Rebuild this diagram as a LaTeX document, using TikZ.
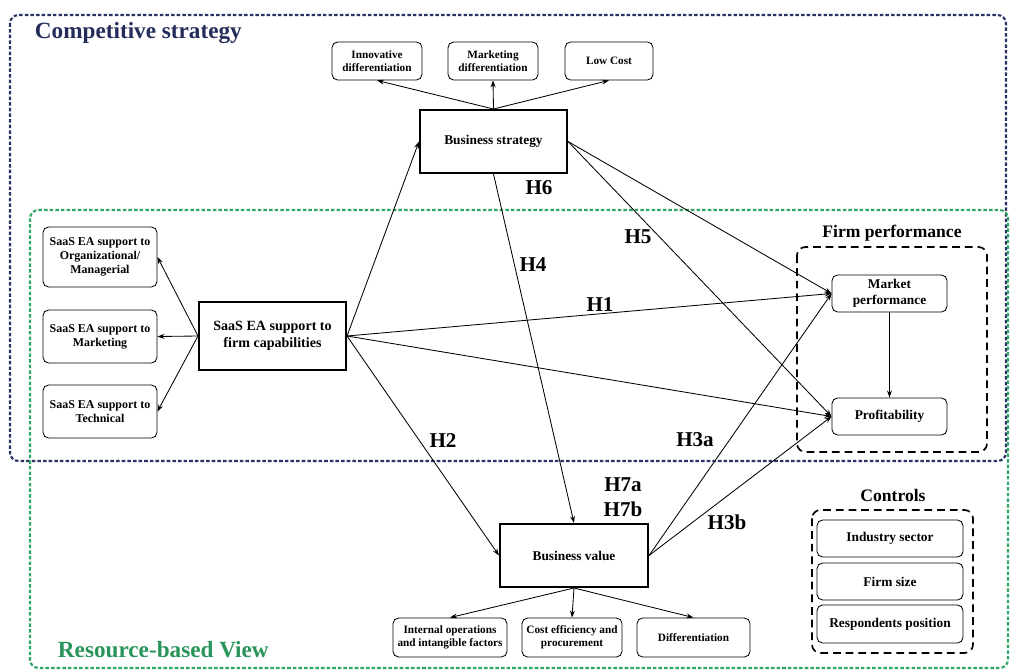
\documentclass[tikz,border=0pt]{standalone}
\usepackage{fontspec}
\setmainfont{Liberation Serif}
\usetikzlibrary{arrows.meta}
\definecolor{navyframe}{RGB}{40,50,100}
\definecolor{rbvgreen}{RGB}{45,165,100}
\begin{document}
\begin{tikzpicture}[x=0.025cm,y=-0.025cm,
  box/.style={draw,rounded corners=4pt,line width=0.6pt,align=center,inner sep=1pt,font=\fontsize{8}{9.5}\selectfont\bfseries},
  midbox/.style={box,font=\fontsize{9.5}{11}\selectfont\bfseries},
  bigbox/.style={draw,line width=1.4pt,align=center,font=\fontsize{9.5}{11.5}\selectfont\bfseries},
  hyp/.style={font=\fontsize{15}{15}\selectfont\bfseries},
  link/.style={-{Stealth[length=5pt,width=3.5pt]},line width=0.6pt},
  grp/.style={dash pattern=on 5.5pt off 3.5pt,line width=1.2pt,rounded corners=6pt}]
\useasboundingbox (0,0) rectangle (1013,671);
\draw[navyframe,line width=1.5pt,dash pattern=on 2.5pt off 1.5pt,rounded corners=6pt] (10,15) rectangle (1006,461);
\draw[rbvgreen,line width=1.5pt,dash pattern=on 2.5pt off 1.5pt,rounded corners=6pt] (30,210) rectangle (1008,668);
\node[anchor=west,text=navyframe!90!black,font=\fontsize{16.5}{18}\selectfont\bfseries] (cs) at (30,33) {Competitive strategy};
\node[anchor=west,text=rbvgreen!90!black,font=\fontsize{16.5}{18}\selectfont\bfseries] (rbv) at (53,650) {Resource-based View};

\node[box,minimum width=2.25cm,minimum height=0.95cm] (inno) at (377,61) {Innovative\\differentiation};
\node[box,minimum width=2.25cm,minimum height=0.95cm] (mktd) at (493,61) {Marketing\\differentiation};
\node[box,minimum width=2.2cm,minimum height=0.95cm] (lowc) at (609,61) {Low Cost};
\node[bigbox,minimum width=3.675cm,minimum height=1.575cm] (bstrat) at (493.5,141.5) {Business strategy};

\node[box,font=\fontsize{8.5}{10}\selectfont\bfseries,minimum width=2.85cm,minimum height=1.5cm] (org) at (100,257) {SaaS EA support to\\Organizational/\\Managerial};
\node[box,font=\fontsize{8.5}{10}\selectfont\bfseries,minimum width=2.85cm,minimum height=1.325cm] (mkt) at (100,336.5) {SaaS EA support to\\Marketing};
\node[box,font=\fontsize{8.5}{10}\selectfont\bfseries,minimum width=2.85cm,minimum height=1.325cm] (tech) at (100,411.5) {SaaS EA support to\\Technical};
\node[bigbox,font=\fontsize{10}{12.5}\selectfont\bfseries,minimum width=3.675cm,minimum height=1.7cm] (fcap) at (272.5,336) {SaaS EA support to\\firm capabilities};

\node[font=\fontsize{12.5}{14}\selectfont\bfseries] (fperf) at (892,233) {Firm performance};
\draw[grp] (797,247) rectangle (987,452);
\node[midbox,minimum width=2.875cm,minimum height=0.925cm] (mperf) at (889.5,293.5) {Market\\performance};
\node[midbox,minimum width=2.875cm,minimum height=0.925cm] (prof) at (889.5,416.5) {Profitability};

\node[bigbox,font=\fontsize{9.5}{11}\selectfont\bfseries,minimum width=3.7cm,minimum height=1.575cm] (bval) at (574,555.5) {Business value};
\node[box,minimum width=2.85cm,minimum height=0.975cm] (intop) at (450,637.5) {Internal operations\\and intangible factors};
\node[box,minimum width=2.5cm,minimum height=0.975cm] (cost) at (572,637.5) {Cost efficiency and\\procurement};
\node[box,minimum width=2.825cm,minimum height=0.975cm] (diff) at (693.5,637.5) {Differentiation};

\node[font=\fontsize{12.5}{14}\selectfont\bfseries] (ctrl) at (893,495) {Controls};
\draw[grp] (812,510) rectangle (973,653);
\node[midbox,minimum width=3.65cm,minimum height=0.925cm] (ind) at (890,538.5) {Industry sector};
\node[midbox,minimum width=3.65cm,minimum height=0.925cm] (fsize) at (890,581.5) {Firm size};
\node[midbox,minimum width=3.65cm,minimum height=0.95cm] (resp) at (890,624) {Respondents position};

\draw[link] (bstrat.north) -- (inno.south);
\draw[link] (bstrat.north) -- (mktd.south);
\draw[link] (bstrat.north) -- (lowc.south);
\draw[link] (fcap.west) -- (org.east);
\draw[link] (fcap.west) -- (mkt.east);
\draw[link] (fcap.west) -- (tech.east);
\draw[link] (fcap.east) -- (bstrat.west);
\draw[link] (fcap.east) -- (mperf.west);
\draw[link] (fcap.east) -- (prof.west);
\draw[link] (fcap.east) -- (bval.west);
\draw[link] (bstrat.south) -- (bval.north);
\draw[link] (bstrat.east) -- (mperf.west);
\draw[link] (bstrat.east) -- (prof.west);
\draw[link] (bval.east) -- (mperf.west);
\draw[link] (bval.east) -- (prof.west);
\draw[link] (mperf.south) -- (prof.north);
\draw[link] (bval.south) -- (intop.north);
\draw[link] (bval.south) -- (cost.north);
\draw[link] (bval.south) -- (diff.north);

\node[hyp] (h1) at (600,305) {H1};
\node[hyp] (h2) at (443,441) {H2};
\node[hyp] (h3a) at (695,440) {H3a};
\node[hyp] (h3b) at (727,522) {H3b};
\node[hyp] (h4) at (533,265) {H4};
\node[hyp] (h5) at (638,237) {H5};
\node[hyp] (h6) at (539,188) {H6};
\node[hyp] (h7a) at (623,485) {H7a};
\node[hyp] (h7b) at (623,509) {H7b};
\end{tikzpicture}
\end{document}
